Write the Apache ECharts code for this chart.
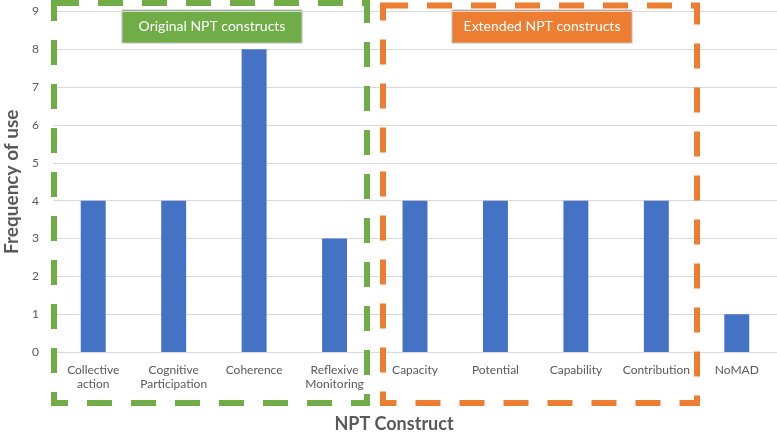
<!DOCTYPE html>
<html><head><meta charset="utf-8">
<script src="https://cdn.jsdelivr.net/npm/echarts@6/dist/echarts.min.js"></script>
<style>html,body{margin:0;padding:0;background:#fff}#c{width:777px;height:432px}</style>
</head><body><div id="c"></div>
<script>
const categories = ["Collective\naction", "Cognitive\nParticipation", "Coherence", "Reflexive\nMonitoring", "Capacity", "Potential", "Capability", "Contribution", "NoMAD"];
const frequency = [4, 4, 8, 3, 4, 4, 4, 4, 1];
const yTicks = [0, 1, 2, 3, 4, 5, 6, 7, 8, 9];
const groupLabels = ["Original NPT constructs", "Extended NPT constructs"];

const FONT = "Lato, 'Open Sans', sans-serif";
const chart = echarts.init(document.getElementById('c'), null, {renderer: 'canvas'});
const green = '#70AD47', orange = '#ED7D31';
function dashedRect(x, y, w, h, color) {
  return {type: 'rect', shape: {x: x, y: y, width: w, height: h}, z: 10,
    style: {fill: null, stroke: color, lineWidth: 6, lineDash: [25, 19]}};
}
function labelBox(x, y, w, h, color, text) {
  return {type: 'group', z: 20, children: [
    {type: 'rect', shape: {x: x, y: y, width: w, height: h},
      style: {fill: color, stroke: '#bfbfbf', lineWidth: 1}},
    {type: 'text', x: x + w / 2, y: y + h / 2,
      style: {text: text, fill: '#fff', font: '14px ' + FONT, textAlign: 'center', textVerticalAlign: 'middle'}}
  ]};
}
chart.setOption({
  animation: false,
  grid: {left: 53, right: 0, top: 11.5, bottom: 80, containLabel: false, outerBoundsMode: 'none'},
  xAxis: {
    type: 'category', data: categories,
    axisLine: {lineStyle: {color: '#d9d9d9', width: 1}},
    axisTick: {show: false},
    axisLabel: {color: '#595959', fontSize: 12, fontFamily: FONT, margin: 11, lineHeight: 14, interval: 0}
  },
  yAxis: {
    type: 'value', min: yTicks[0], max: yTicks[yTicks.length - 1], interval: 1,
    name: 'Frequency of use', nameLocation: 'middle', nameGap: 29,
    nameTextStyle: {color: '#595959', fontSize: 19, fontWeight: 'bold', fontFamily: FONT},
    axisLine: {show: false}, axisTick: {show: false},
    axisLabel: {color: '#595959', fontSize: 12, fontFamily: FONT, margin: 14},
    splitLine: {lineStyle: {color: '#d9d9d9', width: 1}}
  },
  series: [{
    type: 'bar', data: frequency, barWidth: '31%',
    itemStyle: {color: '#4472C4'}
  }],
  graphic: [
    dashedRect(54, 3, 313, 400, green),
    dashedRect(383, 5.5, 314, 397.5, orange),
    labelBox(122, 10, 180, 33, green, groupLabels[0]),
    labelBox(452, 10, 180, 33, orange, groupLabels[1]),
    {type: 'text', x: 394, y: 424, z: 20,
      style: {text: 'NPT Construct', fill: '#595959', font: 'bold 18px ' + FONT, textAlign: 'center', textVerticalAlign: 'middle'}}
  ]
});
</script></body></html>
